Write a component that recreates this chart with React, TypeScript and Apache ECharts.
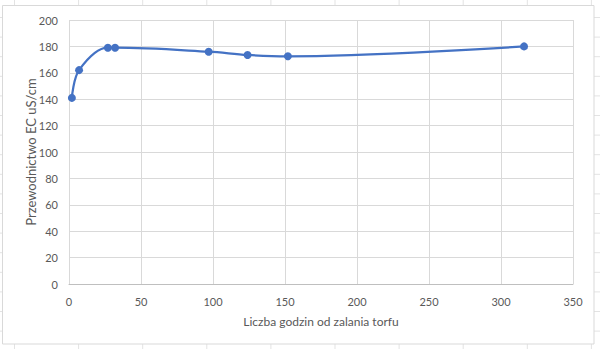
import React, { useEffect, useRef } from "react";
import * as echarts from "echarts";

const hours = [2, 7, 27, 32, 97, 124, 152, 316];
const conductivity = [141, 162, 179, 179, 176, 173.5, 172.5, 180];
const xAxisTitle = "Liczba godzin od zalania torfu";
const yAxisTitle = "Przewodnictwo EC uS/cm";

const FONT = "Lato, 'Liberation Sans', sans-serif";
const TEXT = "#595959";
const GRID = "#d9d9d9";

export default function App() {
  const ref = useRef<HTMLDivElement>(null);
  useEffect(() => {
    if (!ref.current) return;
    const chart = echarts.init(ref.current, undefined, { renderer: "svg" });

    const bg: any[] = [];
    for (let i = 0; i < 10; i++) {
      const x = 14.5 + i * 64.1;
      bg.push({ type: "line", z: -20, shape: { x1: x, y1: 0, x2: x, y2: 349 }, style: { stroke: "#e3e3e3", lineWidth: 1 } });
    }
    for (let i = 0; i < 18; i++) {
      const y = 17.5 + i * 19.6;
      bg.push({ type: "line", z: -20, shape: { x1: 0, y1: y, x2: 600, y2: y }, style: { stroke: "#e3e3e3", lineWidth: 1 } });
    }
    bg.push({
      type: "rect",
      z: -10,
      shape: { x: 2.5, y: 5.5, width: 591.5, height: 338.5 },
      style: { fill: "#ffffff", stroke: GRID, lineWidth: 1 },
    });

    chart.setOption({
      animation: false,
      backgroundColor: "#ffffff",
      graphic: bg,
      grid: { left: 69, top: 20, right: 27, bottom: 65 },
      xAxis: {
        type: "value",
        min: 0,
        max: 350,
        interval: 50,
        name: xAxisTitle,
        nameLocation: "middle",
        nameGap: 31,
        nameMoveOverlap: false,
        nameTextStyle: { color: TEXT, fontSize: 12, fontFamily: FONT },
        axisLine: { show: true, lineStyle: { color: "#bfbfbf", width: 1 } },
        axisTick: { show: false },
        axisLabel: { color: TEXT, fontSize: 11, fontFamily: FONT, margin: 12 },
        splitLine: { show: true, lineStyle: { color: GRID, width: 1 } },
      },
      yAxis: {
        type: "value",
        min: 0,
        max: 200,
        interval: 20,
        name: yAxisTitle,
        nameLocation: "middle",
        nameGap: 32,
        nameMoveOverlap: false,
        nameTextStyle: { color: TEXT, fontSize: 13, fontFamily: FONT },
        axisLine: { show: false },
        axisTick: { show: false },
        axisLabel: { color: TEXT, fontSize: 11, fontFamily: FONT, margin: 11 },
        splitLine: { show: true, lineStyle: { color: GRID, width: 1 } },
      },
      series: [
        {
          type: "line",
          data: hours.map((h, i) => [h, conductivity[i]]),
          smooth: 0.35,
          symbol: "circle",
          symbolSize: 8,
          lineStyle: { color: "#4472C4", width: 2.25 },
          itemStyle: { color: "#4472C4" },
        },
      ],
    });
    return () => chart.dispose();
  }, []);
  return <div ref={ref} style={{ position: "fixed", left: 0, top: 0, width: 600, height: 349 }} />;
}
